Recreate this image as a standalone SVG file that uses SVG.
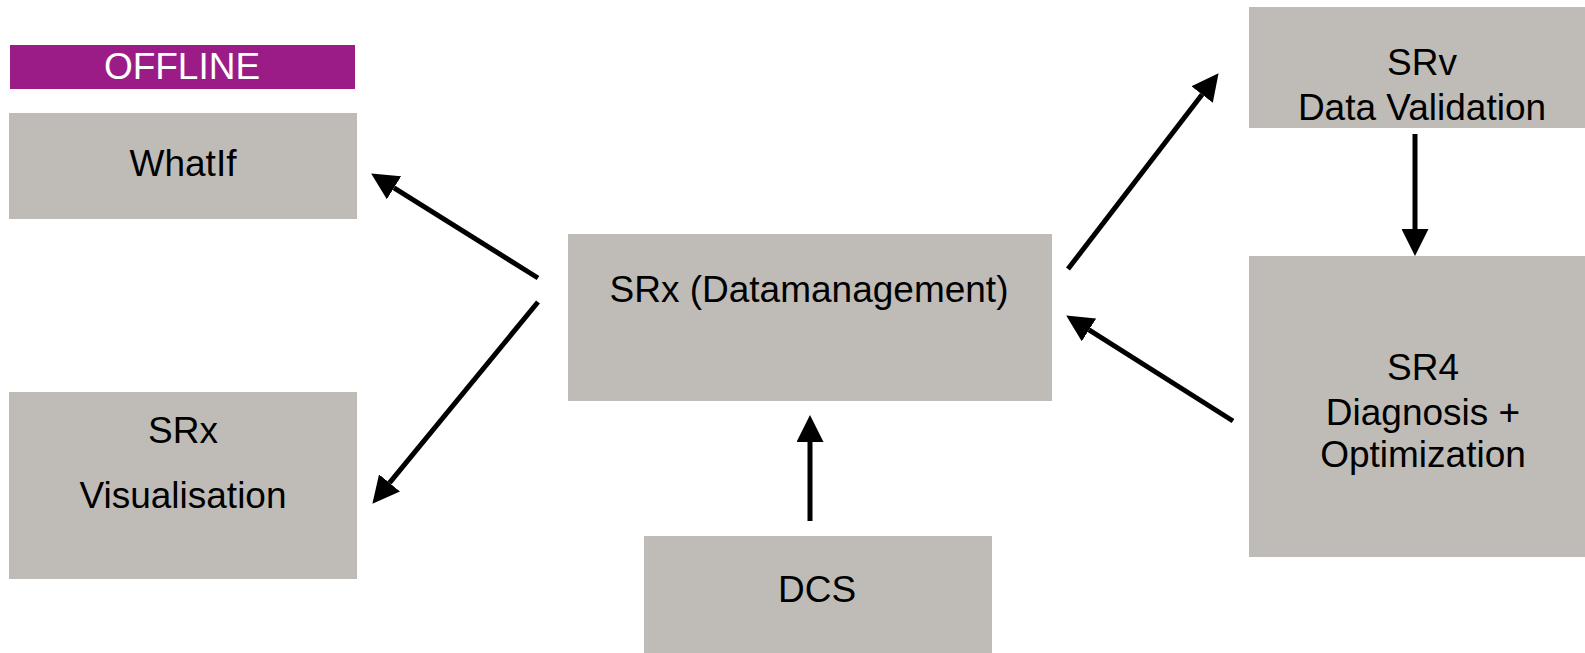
<svg xmlns="http://www.w3.org/2000/svg" width="1585" height="653" viewBox="0 0 1585 653">
<style>
.box{fill:#BFBCB7}
.lbl{font-family:"Liberation Sans",Arial,sans-serif;font-size:37px;fill:#000;text-anchor:middle}
.con{stroke:#000;stroke-width:5;fill:none;marker-end:url(#ah)}
</style>
<defs>
<marker id="ah" markerUnits="userSpaceOnUse" markerWidth="27" markerHeight="27" viewBox="0 0 26 26" refX="0" refY="13" orient="auto">
<path d="M0,0 L26,13 L0,26 z" fill="#000"/>
</marker>
</defs>
<rect width="1585" height="653" fill="#fff"/>
<g id="offline">
<rect x="10" y="45" width="345" height="44" fill="#9B1C87"/>
<text class="lbl" x="182" y="79" style="fill:#fff">OFFLINE</text>
</g>
<g id="whatif">
<rect class="box" x="9" y="113" width="348" height="106"/>
<text class="lbl" x="183" y="176">WhatIf</text>
</g>
<g id="visualisation">
<rect class="box" x="9" y="392" width="348" height="187"/>
<text class="lbl" x="183" y="443">SRx</text>
<text class="lbl" x="183" y="508">Visualisation</text>
</g>
<g id="datamanagement">
<rect class="box" x="568" y="234" width="484" height="167"/>
<text class="lbl" x="809" y="302">SRx (Datamanagement)</text>
</g>
<g id="dcs">
<rect class="box" x="644" y="536" width="348" height="120"/>
<text class="lbl" x="817" y="602">DCS</text>
</g>
<g id="srv">
<rect class="box" x="1249" y="7" width="350" height="121"/>
<text class="lbl" x="1422" y="75">SRv</text>
<text class="lbl" x="1422" y="120">Data Validation</text>
</g>
<g id="sr4">
<rect class="box" x="1249" y="256" width="350" height="301"/>
<text class="lbl" x="1423" y="380">SR4</text>
<text class="lbl" x="1423" y="425">Diagnosis +</text>
<text class="lbl" x="1423" y="467">Optimization</text>
</g>
<g id="connectors">
<line class="con" x1="810" y1="521" x2="810" y2="442"/>
<line class="con" x1="1415" y1="134" x2="1415" y2="229"/>
<line class="con" x1="1068" y1="269" x2="1202.1" y2="94.6"/>
<line class="con" x1="1233" y1="421" x2="1089" y2="329.9"/>
<line class="con" x1="538" y1="278" x2="394" y2="187.8"/>
<line class="con" x1="538" y1="302" x2="389.5" y2="482.9"/>
</g>
</svg>
